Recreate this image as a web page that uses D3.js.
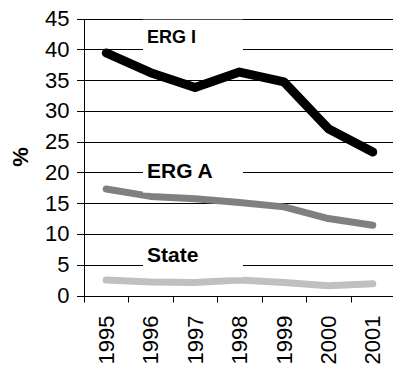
<!DOCTYPE html>
<html>
<head>
<meta charset="utf-8">
<script src="https://cdn.jsdelivr.net/npm/d3@7"></script>
<style>
  html, body { margin: 0; padding: 0; background: #fff; }
  svg { display: block; font-family: "Liberation Sans", Arial, sans-serif; }
</style>
</head>
<body>
<svg id="chart" width="393" height="369"></svg>
<script>
// Share (%) by year for ERG I, ERG A and the state overall
const years = ["1995", "1996", "1997", "1998", "1999", "2000", "2001"];
const ergI = [39.4, 36.2, 33.8, 36.3, 34.7, 27.1, 23.3];
const ergA = [17.3, 16.1, 15.7, 15.1, 14.4, 12.5, 11.4];
const state = [2.5, 2.2, 2.1, 2.5, 2.1, 1.6, 1.9];
const yTicks = [0, 5, 10, 15, 20, 25, 30, 35, 40, 45];
const seriesNames = ["ERG I", "ERG A", "State"];

const svg = d3.select("#chart");
const plot = { left: 84, right: 395, top: 18.5, bottom: 295.5 };

const x = d3.scalePoint().domain(years).range([plot.left, plot.right]).padding(0.5);
const step = x.step();
const y = d3.scaleLinear().domain([0, 45]).range([plot.bottom, plot.top]);

// horizontal gridlines
svg.append("g")
  .selectAll("line")
  .data(yTicks)
  .join("line")
  .attr("x1", plot.left - 7)
  .attr("x2", 393)
  .attr("y1", d => Math.round(y(d)) + 0.5)
  .attr("y2", d => Math.round(y(d)) + 0.5)
  .attr("stroke", "#000")
  .attr("stroke-width", 1);

// y axis
const yAxis = svg.append("g")
  .attr("transform", `translate(${plot.left + 0.5},0)`)
  .call(d3.axisLeft(y).tickValues(yTicks).tickSize(0).tickPadding(15).tickFormat(d3.format("d")));
yAxis.select(".domain").attr("stroke", "#000").attr("d", `M0,${Math.round(plot.top) + 0.5}V${Math.round(plot.bottom) + 0.5}`);
yAxis.selectAll("text").attr("font-size", 22).attr("fill", "#000")
  .attr("font-family", "Liberation Sans, Arial, sans-serif");

// x axis with ticks at category boundaries
const xAxis = svg.append("g")
  .attr("transform", `translate(0,${Math.round(plot.bottom) + 0.5})`);
xAxis.append("line")
  .attr("x1", plot.left).attr("x2", 393)
  .attr("stroke", "#000");
xAxis.selectAll("line.tick")
  .data(d3.range(years.length + 1))
  .join("line")
  .attr("class", "tick")
  .attr("x1", i => Math.round(plot.left + i * step) + 0.5)
  .attr("x2", i => Math.round(plot.left + i * step) + 0.5)
  .attr("y1", 0).attr("y2", 6)
  .attr("stroke", "#000");
xAxis.selectAll("text")
  .data(years)
  .join("text")
  .attr("transform", d => `translate(${x(d)},19) rotate(-90)`)
  .attr("text-anchor", "end")
  .attr("dy", "0.35em")
  .attr("font-size", 22)
  .attr("fill", "#000")
  .text(d => d);

// y axis title
svg.append("text")
  .attr("transform", "translate(20,157) rotate(-90)")
  .attr("text-anchor", "middle")
  .attr("dy", "0.35em")
  .attr("font-size", 22)
  .attr("font-weight", "bold")
  .text("%");

// series lines
const line = d3.line().x((d, i) => x(years[i])).y(d => y(d));
const series = [
  { values: ergI, color: "#000000", width: 9 },
  { values: ergA, color: "#808080", width: 7 },
  { values: state, color: "#c0c0c0", width: 7 }
];
svg.append("g")
  .selectAll("path")
  .data(series)
  .join("path")
  .attr("d", d => line(d.values))
  .attr("fill", "none")
  .attr("stroke", d => d.color)
  .attr("stroke-width", d => d.width)
  .attr("stroke-linecap", "round")
  .attr("stroke-linejoin", "round");

// series labels on opaque white boxes
const labelBaselines = [42.7, 177.7, 262.3];
const labelSizes = [18, 21, 21];
const labels = svg.append("g")
  .selectAll("g")
  .data(seriesNames)
  .join("g")
  .attr("transform", (d, i) => `translate(143,${labelBaselines[i]})`);
labels.append("rect")
  .attr("x", 0).attr("y", -23)
  .attr("width", 100).attr("height", 38)
  .attr("fill", "#fff");
labels.append("text")
  .attr("x", 4)
  .attr("font-size", (d, i) => labelSizes[i])
  .attr("font-weight", "bold")
  .attr("fill", "#000")
  .text(d => d);
</script>
</body>
</html>
